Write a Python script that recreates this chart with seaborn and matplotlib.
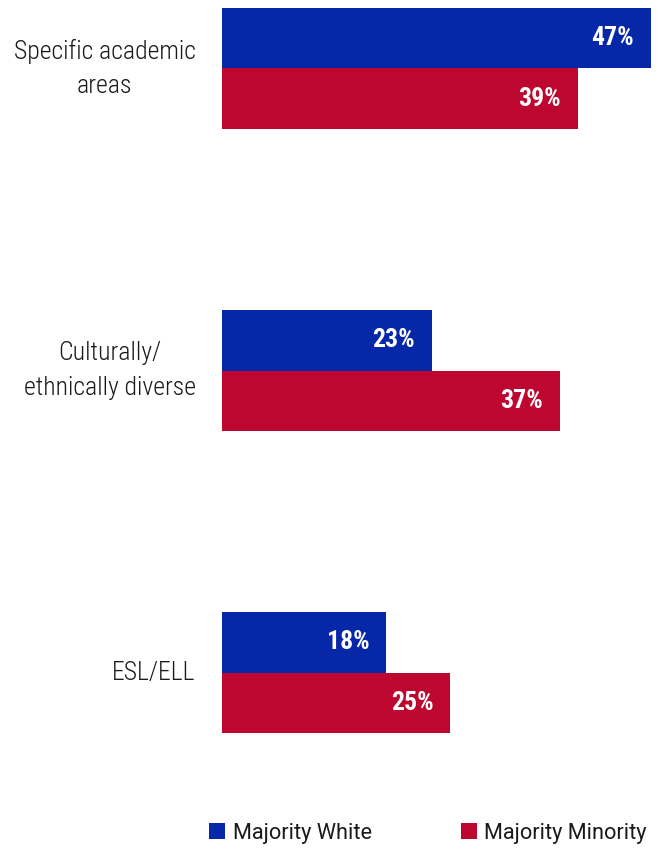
import matplotlib
matplotlib.use("Agg")
import matplotlib.pyplot as plt
from matplotlib import font_manager
from matplotlib.patches import Patch
import seaborn as sns
import pandas as pd

categories = ["Specific academic\nareas", "Culturally/\nethnically diverse", "ESL/ELL"]
groups = ["Majority White", "Majority Minority"]
majority_white = [47, 23, 18]
majority_minority = [39, 37, 25]
colors = ["#0527A8", "#BE0730"]

available = {f.name for f in font_manager.fontManager.ttflist}
label_font = "Roboto Condensed" if "Roboto Condensed" in available else "Roboto"

sns.set_theme(style="white")
plt.rcParams["font.family"] = [label_font, "DejaVu Sans"]

df = pd.DataFrame({
    "category": categories * 2,
    "group": [groups[0]] * 3 + [groups[1]] * 3,
    "value": majority_white + majority_minority,
})

fig = plt.figure(figsize=(6.63, 8.49), dpi=100)
ax = fig.add_axes([222 / 663, 116 / 849, 429 / 663, 725 / 849])

sns.barplot(data=df, y="category", x="value", hue="group", order=categories,
            hue_order=groups, palette=colors, orient="h", width=0.4,
            saturation=1, linewidth=0, legend=False, ax=ax)

ax.set_xlim(0, 47)
ax.set_ylim(2.2, -0.2)
ax.set_xlabel("")
ax.set_ylabel("")
ax.set_xticks([])
sns.despine(ax=ax, left=True, bottom=True)
ax.tick_params(axis="y", length=0, pad=19)
for t in ax.get_yticklabels():
    t.set_fontsize(18.5)
    t.set_fontweight("light")
    t.set_color("#1a1a1a")
    t.set_horizontalalignment("right")
    t.set_verticalalignment("center")
    t.set_multialignment("center")
    t.set_linespacing(1.55)

for container in ax.containers:
    for bar in container:
        w = bar.get_width()
        ax.text(w - 1.85, bar.get_y() + bar.get_height() / 2, f"{w:.0f}%",
                ha="right", va="center", color="white", fontsize=18.5,
                fontweight="bold")

handles = [Patch(facecolor=c, edgecolor="none") for c in colors]
fig.legend(handles, groups, loc="center", bbox_to_anchor=(428 / 663, 1 - 833 / 849),
           ncol=2, frameon=False, handlelength=0.72, handleheight=0.72,
           handletextpad=0.35, columnspacing=4.1, labelcolor="#1a1a1a",
           prop={"family": ["Roboto", "DejaVu Sans"], "size": 15.7})

fig.savefig("out.png", dpi=100)
